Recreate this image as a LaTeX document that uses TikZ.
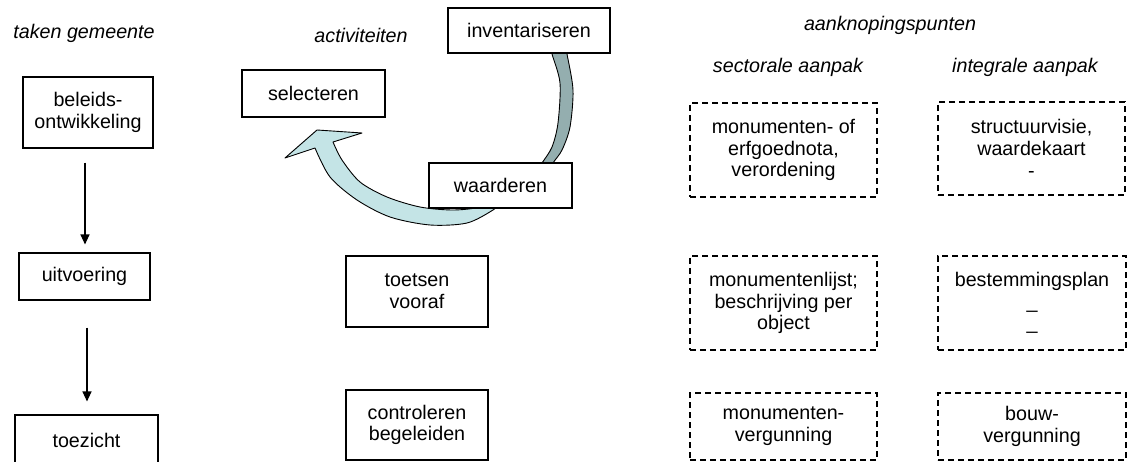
\documentclass[tikz,border=0pt]{standalone}
\usepackage{fontspec}
\setmainfont{Liberation Sans}
\usetikzlibrary{arrows.meta}
\definecolor{ringlight}{RGB}{196,228,230}
\definecolor{ringdark}{RGB}{148,174,175}
\tikzset{
  txt/.style={font=\fontsize{19.7}{21.7}\selectfont, align=center, inner sep=0pt},
  itl/.style={font=\fontsize{19.7}{21.7}\selectfont\itshape, inner sep=0pt},
  box/.style={txt, draw, line width=1.1pt, fill=white, rectangle},
  dbox/.style={txt, draw, line width=1.1pt, dash pattern=on 6pt off 4pt, rectangle},
  arr/.style={line width=1.2pt, -{Triangle[length=10pt,width=9pt]}},
  ringedge/.style={draw=black, line width=0.9pt, line join=round}
}
\begin{document}
\begin{tikzpicture}[x=1pt,y=-1pt]
\useasboundingbox (0,0) rectangle (1134,462);
\fill[white] (0,0) rectangle (1134,462);

% headings
\node[itl] (hTaken) at (84,33) {taken gemeente};
\node[itl] (hAct) at (361,35) {activiteiten};
\node[itl] (hAank) at (890,25) {aanknopingspunten};
\node[itl] (hSect) at (788,67) {sectorale aanpak};
\node[itl] (hInt) at (1025,67) {integrale aanpak};

% ring arrow (drawn below the boxes)
\path[ringedge, fill=ringdark]
  plot[smooth] coordinates {(551,48) (552,54) (560,83) (558,123) (552,147) (542,163) (536,172)}
  -- plot[smooth] coordinates {(549,172) (553,163) (562,150) (570,127) (573,90) (567,54) (566,48)}
  -- cycle;
\path[ringedge, fill=ringlight]
  plot[smooth] coordinates {(505,200) (493,210) (467,223) (430,225) (390,217) (357,200) (330,177) (315,148)}
  -- (285,158) -- (317,130) -- (362,133)
  -- plot[smooth] coordinates {(333,142) (342,160) (360,182) (387,197) (420,207) (453,210) (480,207) (495,198)}
  -- cycle;

% left column
\node[box, minimum width=130pt, minimum height=71pt] (bel) at (88,112.5) {beleids-\\ontwikkeling};
\node[box, minimum width=131pt, minimum height=47pt] (uit) at (84.5,276.5) {uitvoering};
\node[box, minimum width=143pt, minimum height=50pt] (toe) at (86.5,440) {toezicht};
\draw[arr, shorten <=14pt, shorten >=8pt] (bel.south -| 85,0) -- (uit.north -| 85,0);
\draw[arr, shorten <=27pt, shorten >=13pt] (uit.south -| 87,0) -- (toe.north -| 87,0);

% activities
\node[box, minimum width=143pt, minimum height=47pt] (sel) at (313.5,93.5) {selecteren};
\node[box, minimum width=162pt, minimum height=45pt] (inv) at (529,30.5) {inventariseren};
\node[box, minimum width=143pt, minimum height=45pt] (waa) at (500.5,185.5) {waarderen};
\node[box, minimum width=142pt, minimum height=71pt] (tv) at (417,291.5) {toetsen\\vooraf};
\node[box, minimum width=142pt, minimum height=70pt] (cb) at (417,425) {controleren\\begeleiden};

% aanknopingspunten
\node[dbox, minimum width=187pt, minimum height=94pt] (s1) at (783.5,150) {monumenten- of\\erfgoednota,\\verordening};
\node[dbox, minimum width=187pt, minimum height=93pt] (i1) at (1031.5,148.5) {structuurvisie,\\waardekaart\\-};
\node[dbox, minimum width=187pt, minimum height=94pt] (s2) at (783.5,303) {monumentenlijst;\\beschrijving per\\object};
\node[dbox, minimum width=188pt, minimum height=94pt] (i2) at (1032,303) {bestemmingsplan\\\_\\\_};
\node[dbox, minimum width=187pt, minimum height=67pt] (s3) at (783.5,426.5) {monumenten-\\vergunning};
\node[dbox, minimum width=188pt, minimum height=67pt] (i3) at (1032,426.5) {bouw-\\vergunning};
\end{tikzpicture}
\end{document}
